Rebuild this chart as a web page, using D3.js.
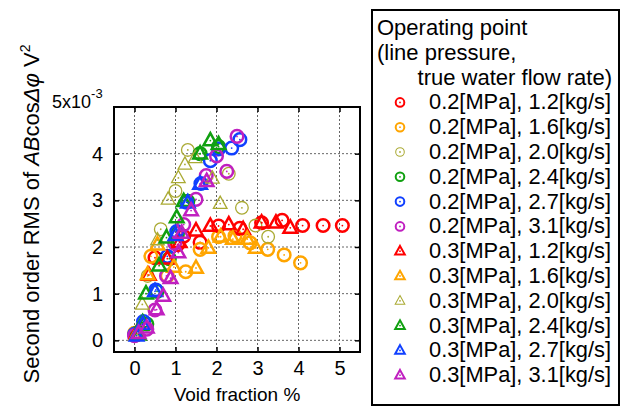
<!DOCTYPE html>
<html>
<head>
<meta charset="utf-8">
<script src="https://cdn.jsdelivr.net/npm/d3@7"></script>
<style>
  body { margin: 0; background: #fff; }
  text { font-family: "Liberation Sans", Arial, sans-serif; fill: #000; }
</style>
</head>
<body>
<div id="chart"></div>
<script>
// void fraction [%], second order RMS [x1e-3 V^2]
const p02_12 = [[0.05,0.12],[0.5,1.77],[1.05,2.05],[1.2,2.23],[1.6,2.1],[2.05,2.45],[2.57,2.4],[3.1,2.52],[3.6,2.57],[4.1,2.46],[4.6,2.46],[5.07,2.46]];
const p02_16 = [[0.0,0.15],[0.4,1.8],[0.8,1.38],[1.25,1.47],[1.6,1.95],[2.05,2.22],[2.45,2.24],[2.82,2.09],[3.25,1.95],[3.65,1.83],[4.05,1.66]];
const p02_20 = [[0.0,0.12],[0.32,1.38],[0.64,2.38],[1.0,3.2],[1.3,4.08],[2.3,3.57],[2.62,2.84],[2.95,2.46],[3.26,2.22]];
const p02_24 = [[0.05,0.15],[0.3,0.35],[0.55,1.05],[0.85,1.75],[1.05,2.3],[1.3,2.98],[1.6,4.0],[2.05,4.15]];
const p02_27 = [[0.0,0.13],[0.22,0.4],[0.52,1.08],[0.8,1.8],[1.03,2.33],[1.27,2.96],[1.62,3.36],[1.85,3.85],[2.05,4.1],[2.37,4.12],[2.57,4.3]];
const p02_31 = [[0.0,0.1],[0.3,0.24],[0.5,0.65],[0.78,1.38],[0.98,2.08],[1.2,2.48],[1.5,3.02],[1.75,3.53],[2.0,3.95],[2.25,3.62],[2.5,4.37]];
const p03_12 = [[0.05,0.15],[0.35,1.4],[0.8,1.75],[1.1,2.1],[1.5,2.35],[1.85,2.45],[2.3,2.48],[2.65,2.38],[3.1,2.52],[3.45,2.52],[3.8,2.41]];
const p03_16 = [[0.05,0.12],[0.32,1.41],[0.56,2.05],[0.96,1.57],[1.5,1.55],[1.8,1.98],[2.1,2.22],[2.4,2.17],[2.75,2.17],[2.96,1.98]];
const p03_20 = [[0.05,0.12],[0.19,0.77],[0.56,2.15],[0.82,3.02],[1.07,3.48],[1.23,3.77],[1.48,3.91],[1.9,3.47],[2.09,2.93]];
const p03_24 = [[0.1,0.12],[0.2,0.38],[0.28,1.0],[0.6,1.6],[0.78,2.2],[1.03,2.63],[1.2,2.98],[1.6,4.0],[1.85,4.28],[2.05,4.2]];
const p03_27 = [[0.05,0.1],[0.2,0.35],[0.5,1.05],[1.0,2.25],[1.3,2.95],[1.6,3.35]];
const p03_31 = [[0.1,0.15],[0.3,0.27],[0.54,0.66],[0.7,0.95],[0.88,1.33],[1.07,1.88],[1.15,2.3],[1.38,2.78],[1.76,3.41]];

const seriesData = [p02_12, p02_16, p02_20, p02_24, p02_27, p02_31, p03_12, p03_16, p03_20, p03_24, p03_27, p03_31];
const seriesLabels = [
  "0.2[MPa], 1.2[kg/s]", "0.2[MPa], 1.6[kg/s]", "0.2[MPa], 2.0[kg/s]",
  "0.2[MPa], 2.4[kg/s]", "0.2[MPa], 2.7[kg/s]", "0.2[MPa], 3.1[kg/s]",
  "0.3[MPa], 1.2[kg/s]", "0.3[MPa], 1.6[kg/s]", "0.3[MPa], 2.0[kg/s]",
  "0.3[MPa], 2.4[kg/s]", "0.3[MPa], 2.7[kg/s]", "0.3[MPa], 3.1[kg/s]"
];
const xTicks = [0, 1, 2, 3, 4, 5];
const yTicks = [0, 1, 2, 3, 4];

const colors = ["#ff0000", "#ffa500", "#aaaa33", "#10a010", "#1040ff", "#c020c0"];
const colorOf = i => colors[i % 6];
const shapeOf = i => i < 6 ? "circle" : "triangle";
const widthOf = i => (i % 6 === 2) ? 1.3 : 2.5;

const width = 626, height = 408;
const plot = { left: 114, right: 360, top: 107, bottom: 352 };

const svg = d3.select("#chart").append("svg")
    .attr("width", width)
    .attr("height", height);

const x = d3.scaleLinear().domain([-0.5, 5.5]).range([plot.left, plot.right]);
const y = d3.scaleLinear().domain([-0.25, 5]).range([plot.bottom, plot.top]);

// dotted grid
const grid = svg.append("g")
    .attr("stroke", "#666")
    .attr("stroke-width", 1)
    .attr("stroke-dasharray", "2,2");
grid.selectAll("line.gx").data(xTicks).join("line")
    .attr("class", "gx")
    .attr("x1", d => x(d)).attr("x2", d => x(d))
    .attr("y1", plot.top).attr("y2", plot.bottom);
grid.selectAll("line.gy").data(yTicks).join("line")
    .attr("class", "gy")
    .attr("x1", plot.left).attr("x2", plot.right)
    .attr("y1", d => y(d)).attr("y2", d => y(d));

// axes with inward ticks
const axisFont = g => g.selectAll("text").style("font-size", "20px").attr("fill", "#000");
const axisLines = g => { g.select(".domain").remove(); g.selectAll(".tick line").attr("stroke", "#000").attr("stroke-width", 1.5); };

svg.append("g")
    .attr("transform", `translate(0,${plot.bottom})`)
    .call(d3.axisBottom(x).tickValues(xTicks).tickFormat(d3.format("d")).tickSizeInner(-5).tickSizeOuter(0).tickPadding(9))
    .call(axisLines).call(axisFont);
svg.append("g")
    .attr("transform", `translate(${plot.left},0)`)
    .call(d3.axisLeft(y).tickValues(yTicks).tickFormat(d3.format("d")).tickSizeInner(-5).tickSizeOuter(0).tickPadding(11))
    .call(axisLines).call(axisFont);
svg.append("g")
    .attr("transform", `translate(0,${plot.top})`)
    .call(d3.axisTop(x).tickValues(xTicks).tickSizeInner(-5).tickSizeOuter(0).tickFormat(""))
    .call(axisLines);
svg.append("g")
    .attr("transform", `translate(${plot.right},0)`)
    .call(d3.axisRight(y).tickValues(yTicks).tickSizeInner(-5).tickSizeOuter(0).tickFormat(""))
    .call(axisLines);

svg.append("rect")
    .attr("x", plot.left).attr("y", plot.top)
    .attr("width", plot.right - plot.left).attr("height", plot.bottom - plot.top)
    .attr("fill", "none").attr("stroke", "#000").attr("stroke-width", 2);

// exponent label at top of y axis
const expo = svg.append("text").attr("x", 52).attr("y", 108).style("font-size", "18px");
expo.append("tspan").text("5x10");
expo.append("tspan").attr("dy", -10).style("font-size", "13px").text("-3");

// axis titles
svg.append("text")
    .attr("x", (plot.left + plot.right) / 2).attr("y", 401)
    .attr("text-anchor", "middle")
    .style("font-size", "19px")
    .text("Void fraction %");

const yl = svg.append("text")
    .attr("transform", "translate(39,214) rotate(-90)")
    .attr("text-anchor", "middle")
    .style("font-size", "22px");
yl.append("tspan").text("Second order RMS of ");
yl.append("tspan").style("font-style", "italic").text("AB");
yl.append("tspan").text("cos");
yl.append("tspan").style("font-style", "italic").text("\u0394\u03c6");
yl.append("tspan").text(" V");
yl.append("tspan").attr("dy", -9).style("font-size", "14px").text("2");

// markers
const triPath = s => `M0,${-1.1 * s}L${s},${0.7 * s}L${-s},${0.7 * s}Z`;

function drawMarker(g, i, r, sw) {
    const c = colorOf(i);
    if (shapeOf(i) === "circle") {
        g.append("circle").attr("r", r).attr("fill", "none")
            .attr("stroke", c).attr("stroke-width", sw);
    } else {
        g.append("path").attr("d", triPath(r + 0.5)).attr("fill", "none")
            .attr("stroke", c).attr("stroke-width", sw);
    }
    g.append("circle").attr("r", 0.9).attr("fill", c);
}

seriesData.forEach((data, i) => {
    const gs = svg.append("g").attr("class", "series");
    gs.selectAll("g").data(data).join("g")
        .attr("transform", d => `translate(${x(d[0])},${y(d[1])})`)
        .each(function() { drawMarker(d3.select(this), i, 6.3, widthOf(i)); });
});

// legend
const lg = svg.append("g");
lg.append("rect")
    .attr("x", 372).attr("y", 10).attr("width", 247).attr("height", 395)
    .attr("fill", "#fff").attr("stroke", "#000").attr("stroke-width", 2);
const lineH = 24.8, firstY = 35;
const header = ["Operating point", "(line pressure,"];
header.forEach((t, k) => {
    lg.append("text").attr("x", 377).attr("y", firstY + k * lineH)
        .style("font-size", "22px").text(t);
});
lg.append("text").attr("x", 612).attr("y", firstY + 2 * lineH)
    .attr("text-anchor", "end").style("font-size", "22px").text("true water flow rate)");
seriesLabels.forEach((t, i) => {
    const yy = firstY + (i + 3) * lineH;
    const m = lg.append("g").attr("transform", `translate(400,${yy - 7})`);
    drawMarker(m, i, 4.3, widthOf(i) * 0.8);
    lg.append("text").attr("x", 429).attr("y", yy)
        .attr("textLength", 182).attr("lengthAdjust", "spacingAndGlyphs")
        .style("font-size", "22px").text(t);
});
</script>
</body>
</html>
